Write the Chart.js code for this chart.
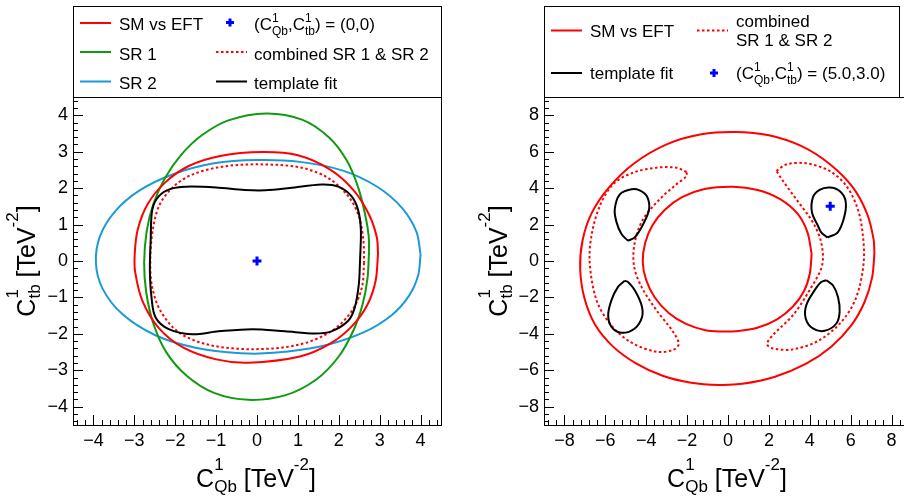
<!DOCTYPE html>
<html>
<head>
<meta charset="utf-8">
<script src="https://cdn.jsdelivr.net/npm/chart.js@4"></script>
<style>
  html, body { margin: 0; padding: 0; background: #fff; overflow: hidden; width: 904px; height: 498px; }
  canvas { position: absolute; top: 0; }
  #left { left: 0; }
  #right { left: 452px; }
</style>
</head>
<body>
<canvas id="left" width="452" height="498"></canvas>
<canvas id="right" width="470" height="498"></canvas>
<script>
// tick labels
const leftTicks = [-4, -3, -2, -1, 0, 1, 2, 3, 4];
const rightTicks = [-8, -6, -4, -2, 0, 2, 4, 6, 8];

// left panel: contours, [C_Qb, C_tb]
const smLeft = [[2.96,0.20],[2.90,-0.55],[2.70,-1.20],[2.33,-1.78],[1.80,-2.26],[1.05,-2.62],[-0.21,-2.79],[-1.00,-2.70],[-1.80,-2.38],[-2.40,-1.84],[-2.80,-1.10],[-2.98,-0.30],[-2.99,0.20],[-2.92,0.85],[-2.68,1.55],[-2.25,2.15],[-1.68,2.60],[-0.90,2.88],[0.12,2.99],[1.00,2.90],[1.80,2.50],[2.38,1.92],[2.75,1.25],[2.93,0.65],[2.96,0.20]];
const sr1Left = [[2.74,0.25],[2.70,-0.50],[2.58,-1.20],[2.36,-1.90],[2.00,-2.62],[1.45,-3.25],[0.70,-3.68],[-0.21,-3.81],[-1.05,-3.62],[-1.72,-3.15],[-2.22,-2.50],[-2.54,-1.70],[-2.71,-0.85],[-2.76,-0.05],[-2.70,0.80],[-2.54,1.55],[-2.25,2.28],[-1.85,2.92],[-1.35,3.45],[-0.70,3.86],[0.22,4.05],[1.10,3.88],[1.75,3.40],[2.20,2.75],[2.48,2.00],[2.65,1.25],[2.73,0.70],[2.74,0.25]];
const sr2Left = [[4.00,0.18],[3.94,-0.40],[3.72,-0.95],[3.30,-1.48],[2.62,-1.95],[1.60,-2.33],[0.40,-2.52],[-0.40,-2.53],[-1.50,-2.38],[-2.50,-2.03],[-3.30,-1.45],[-3.78,-0.75],[-3.94,-0.05],[-3.84,0.68],[-3.48,1.35],[-2.88,1.93],[-2.05,2.38],[-1.05,2.68],[0.00,2.77],[1.05,2.72],[2.10,2.48],[2.95,2.03],[3.55,1.45],[3.90,0.80],[4.00,0.18]];
const combLeft = [[2.62,-0.05],[2.56,-0.75],[2.30,-1.40],[1.80,-1.94],[1.01,-2.30],[-0.12,-2.42],[-1.18,-2.30],[-1.91,-1.96],[-2.36,-1.37],[-2.56,-0.73],[-2.61,-0.10],[-2.56,0.77],[-2.40,1.50],[-2.07,2.01],[-1.59,2.37],[-0.77,2.60],[0.20,2.65],[1.09,2.56],[1.74,2.28],[2.23,1.78],[2.49,1.23],[2.60,0.59],[2.62,-0.05]];
const fitLeft = [[2.52,0.00],[2.49,-0.64],[2.39,-1.28],[2.23,-1.64],[1.82,-1.93],[1.42,-1.99],[0.69,-1.93],[-0.12,-1.87],[-0.94,-1.93],[-1.59,-2.01],[-2.16,-1.87],[-2.48,-1.55],[-2.58,-1.00],[-2.62,-0.27],[-2.60,0.59],[-2.56,1.41],[-2.40,1.78],[-2.11,1.98],[-1.75,2.04],[-1.00,2.02],[-0.30,1.95],[0.20,1.94],[0.80,2.00],[1.58,2.10],[1.99,2.04],[2.31,1.78],[2.47,1.41],[2.54,0.86],[2.52,0.00]];
const pointLeft = [[0, 0]];

// right panel
const smOuter = [[7.16,0.40],[7.05,-0.90],[6.68,-2.25],[6.02,-3.55],[5.05,-4.70],[3.80,-5.65],[2.30,-6.35],[0.70,-6.74],[-0.45,-6.80],[-1.80,-6.68],[-3.20,-6.30],[-4.50,-5.62],[-5.62,-4.70],[-6.50,-3.50],[-7.02,-2.05],[-7.23,-0.45],[-7.12,1.10],[-6.68,2.60],[-5.85,4.00],[-4.60,5.35],[-3.00,6.40],[-1.30,6.95],[0.34,7.08],[2.00,6.90],[3.60,6.30],[5.00,5.30],[6.10,4.05],[6.80,2.60],[7.12,1.20],[7.16,0.40]];
const smInner = [[4.09,0.40],[4.00,-0.70],[3.72,-1.65],[3.18,-2.50],[2.40,-3.20],[1.40,-3.68],[0.40,-3.85],[-0.31,-3.87],[-1.10,-3.80],[-2.05,-3.45],[-2.90,-2.85],[-3.58,-2.00],[-4.00,-1.05],[-4.17,-0.07],[-4.05,1.00],[-3.70,1.95],[-3.10,2.80],[-2.25,3.50],[-1.15,3.95],[0.26,4.08],[1.45,3.90],[2.55,3.40],[3.40,2.60],[3.88,1.60],[4.09,0.40]];
const combRightA = [[-2.03,4.88],[-2.52,5.12],[-3.50,5.12],[-4.64,4.85],[-5.62,4.21],[-6.27,3.02],[-6.68,1.38],[-6.76,-0.16],[-6.43,-2.15],[-5.78,-3.43],[-4.80,-4.43],[-3.50,-4.98],[-2.69,-4.88],[-2.41,-4.56],[-2.69,-3.88],[-3.50,-2.70],[-4.23,-1.42],[-4.60,-0.25],[-4.56,1.02],[-4.15,2.30],[-3.34,3.39],[-2.52,4.21],[-2.03,4.66],[-2.03,4.88]];
const combRightB = [[2.37,4.94],[2.85,5.30],[3.83,5.36],[4.97,4.94],[5.79,4.12],[6.35,2.84],[6.60,1.38],[6.63,-0.16],[6.28,-1.97],[5.62,-3.24],[4.48,-4.34],[3.18,-4.85],[2.20,-4.80],[1.91,-4.56],[2.20,-4.06],[3.18,-2.97],[3.99,-1.60],[4.60,-0.25],[4.56,1.02],[4.15,2.12],[3.34,3.39],[2.69,4.39],[2.37,4.94]];
const fitRightA = [[-4.89,1.11],[-4.56,1.30],[-4.15,2.02],[-3.86,2.84],[-3.96,3.54],[-4.32,3.88],[-4.72,3.94],[-5.29,3.66],[-5.54,2.84],[-5.45,2.12],[-5.21,1.48],[-4.89,1.11]];
const fitRightB = [[4.87,1.29],[4.56,1.57],[4.40,1.93],[4.11,2.66],[4.15,3.48],[4.48,3.90],[4.97,4.03],[5.46,3.84],[5.75,3.30],[5.70,2.48],[5.37,1.57],[4.87,1.29]];
const fitRightC = [[-5.05,-1.09],[-5.38,-1.42],[-5.70,-2.15],[-5.86,-2.97],[-5.70,-3.61],[-5.21,-3.94],[-4.56,-3.70],[-4.20,-3.06],[-4.23,-2.42],[-4.56,-1.60],[-4.89,-1.15],[-5.05,-1.09]];
const fitRightD = [[4.81,-1.06],[5.13,-1.33],[5.38,-1.97],[5.46,-2.79],[5.30,-3.43],[4.73,-3.83],[4.15,-3.70],[3.80,-3.15],[3.83,-2.42],[4.24,-1.60],[4.56,-1.15],[4.81,-1.06]];
const pointRight = [[5.0, 3.0]];

const RED = '#ff0000', GREEN = '#109a10', AZURE = '#1a9bd7', BLUE = '#0000ff';
const FONT = '"Liberation Sans", Arial, sans-serif';

const xy = arr => arr.map(p => ({ x: p[0], y: p[1] }));

function curve(data, color, order, dash) {
  return {
    data: xy(data), showLine: true, borderColor: color, borderWidth: 2,
    borderDash: dash ? [2.5, 2.5] : [], pointRadius: 0, tension: 0.33, fill: false, order
  };
}
function marker(data) {
  return {
    data: xy(data), showLine: false, pointStyle: 'cross', pointRadius: 4.5,
    borderColor: BLUE, borderWidth: 3, order: 0
  };
}

// text with ROOT-like sub/superscripts: parts are strings or {sup, sub}
function richWidth(ctx, parts, size, small) {
  let w = 0;
  for (const p of parts) {
    if (typeof p === 'string') { ctx.font = size + 'px ' + FONT; w += ctx.measureText(p).width; }
    else {
      ctx.font = small + 'px ' + FONT;
      w += Math.max(p.sup ? ctx.measureText(p.sup).width : 0, p.sub ? ctx.measureText(p.sub).width : 0);
    }
  }
  return w;
}
function drawRich(ctx, parts, x, y, size, small, supDy, subDy, center) {
  if (center) x -= richWidth(ctx, parts, size, small) / 2;
  ctx.textAlign = 'left';
  ctx.textBaseline = 'alphabetic';
  for (const p of parts) {
    if (typeof p === 'string') {
      ctx.font = size + 'px ' + FONT;
      ctx.fillText(p, x, y);
      x += ctx.measureText(p).width;
    } else {
      ctx.font = small + 'px ' + FONT;
      let w = 0;
      if (p.sup) { ctx.fillText(p.sup, x, y + supDy); w = ctx.measureText(p.sup).width; }
      if (p.sub) { ctx.fillText(p.sub, x, y + subDy); w = Math.max(w, ctx.measureText(p.sub).width); }
      x += w;
    }
  }
}

function plus(ctx, x, y) {
  ctx.save();
  ctx.strokeStyle = BLUE; ctx.lineWidth = 3;
  ctx.beginPath();
  ctx.moveTo(x - 4, y); ctx.lineTo(x + 4, y);
  ctx.moveTo(x, y - 4); ctx.lineTo(x, y + 4);
  ctx.stroke();
  ctx.restore();
}

// frame, inward ticks, axis titles and the boxed legend
const rootDeco = {
  id: 'rootDeco',
  afterDraw(chart, args, o) {
    const { ctx, chartArea: a, scales: { x, y } } = chart;
    ctx.save();
    ctx.strokeStyle = '#000';
    ctx.lineWidth = 1;
    ctx.strokeRect(Math.round(a.left) + 0.5, Math.round(a.top) + 0.5, Math.round(a.right - a.left), Math.round(a.bottom - a.top));

    ctx.beginPath();
    const isMajor = v => Math.abs(v / o.major - Math.round(v / o.major)) < 1e-6;
    for (let k = Math.ceil(x.min / o.minor - 1e-9); k * o.minor <= x.max + 1e-9; k++) {
      const v = k * o.minor, px = Math.round(x.getPixelForValue(v)) + 0.5;
      ctx.moveTo(px, a.bottom); ctx.lineTo(px, a.bottom - (isMajor(v) ? 10 : 5));
    }
    for (let k = Math.ceil(y.min / o.minor - 1e-9); k * o.minor <= y.max + 1e-9; k++) {
      const v = k * o.minor, py = Math.round(y.getPixelForValue(v)) + 0.5;
      ctx.moveTo(a.left, py); ctx.lineTo(a.left + (isMajor(v) ? 10 : 5), py);
    }
    ctx.stroke();

    ctx.fillStyle = '#000';
    drawRich(ctx, ['C', { sup: '1', sub: 'Qb' }, ' [TeV', { sup: '-2' }, ']'],
      (a.left + a.right) / 2 - 1, 487, 25, 17, -17, 5, true);
    ctx.save();
    ctx.translate(o.yTitleX, (a.top + a.bottom) / 2);
    ctx.rotate(-Math.PI / 2);
    drawRich(ctx, ['C', { sup: '1', sub: 'tb' }, ' [TeV', { sup: '-2' }, ']'], 0, 0, 25, 17, -17, 5, true);
    ctx.restore();

    // legend box
    const b = o.box;
    ctx.strokeRect(b[0] + 0.5, b[1] + 0.5, b[2] - b[0], b[3] - b[1]);
    for (const it of o.items) {
      if (it.kind === 'mark') plus(ctx, it.x + 15, it.y);
      else {
        ctx.save();
        ctx.strokeStyle = it.color; ctx.lineWidth = 2;
        ctx.setLineDash(it.kind === 'dash' ? [2.5, 2.5] : []);
        ctx.beginPath(); ctx.moveTo(it.x, it.y); ctx.lineTo(it.x + 31, it.y); ctx.stroke();
        ctx.restore();
      }
      ctx.fillStyle = '#000';
      it.text.forEach((t, i) => drawRich(ctx, t, it.tx, it.ty + i * 19.5, 17, 12, -8, 5, false));
    }
    ctx.restore();
  }
};

function axis(min, max, ticks, size, horizontal) {
  return {
    type: 'linear', min, max,
    afterBuildTicks: s => { s.ticks = ticks.map(v => ({ value: v })); },
    afterFit: s => { if (horizontal) s.height = size; else s.width = size; },
    grid: { display: false, drawTicks: false },
    border: { display: false },
    ticks: {
      color: '#000', padding: 5, autoSkip: false, maxRotation: 0,
      font: { family: FONT, size: 18 },
      callback: v => String(v).replace('-', '\u2212')
    }
  };
}

function makeChart(id, datasets, range, ticks, yWidth, padRight, deco) {
  return new Chart(document.getElementById(id), {
    type: 'scatter',
    data: { datasets },
    options: {
      responsive: false, animation: false, devicePixelRatio: 1,
      layout: { padding: { top: 97, right: padRight, left: 0, bottom: 0 } },
      plugins: { legend: { display: false }, tooltip: { enabled: false }, rootDeco: deco },
      scales: {
        x: axis(-range, range, ticks, 73, true),
        y: axis(-range, range, ticks, yWidth, false)
      }
    },
    plugins: [rootDeco]
  });
}

const SM = [['SM vs EFT']];
const POINT0 = [['(C', { sup: '1', sub: 'Qb' }, ',C', { sup: '1', sub: 'tb' }, ') = (0,0)']];
const POINT5 = [['(C', { sup: '1', sub: 'Qb' }, ',C', { sup: '1', sub: 'tb' }, ') = (5.0,3.0)']];

makeChart('left', [
  curve(sr2Left, AZURE, 5),
  curve(sr1Left, GREEN, 4),
  curve(smLeft, RED, 3),
  curve(combLeft, RED, 2, true),
  curve(fitLeft, '#000', 1),
  marker(pointLeft)
], 4.5, leftTicks, 73, 11, {
  major: 1, minor: 0.2, yTitleX: 35, box: [73, 6, 441, 97],
  items: [
    { kind: 'line', color: RED, x: 80, y: 23, tx: 119, ty: 29.5, text: SM },
    { kind: 'line', color: GREEN, x: 80, y: 52, tx: 119, ty: 60, text: [['SR 1']] },
    { kind: 'line', color: AZURE, x: 80, y: 81.5, tx: 119, ty: 88.5, text: [['SR 2']] },
    { kind: 'mark', x: 215, y: 22.5, tx: 254, ty: 29.5, text: POINT0 },
    { kind: 'dash', color: RED, x: 216, y: 52, tx: 254, ty: 60, text: [['combined SR 1 & SR 2']] },
    { kind: 'line', color: '#000', x: 216, y: 81.5, tx: 254, ty: 88.5, text: [['template fit']] }
  ]
});

makeChart('right', [
  curve(smOuter, RED, 3),
  curve(smInner, RED, 3),
  curve(combRightA, RED, 2, true),
  curve(combRightB, RED, 2, true),
  curve(fitRightA, '#000', 1),
  curve(fitRightB, '#000', 1),
  curve(fitRightC, '#000', 1),
  curve(fitRightD, '#000', 1),
  marker(pointRight)
], 9, rightTicks, 92, 10, {
  major: 2, minor: 0.4, yTitleX: 55, box: [92, 6, 447, 97],
  items: [
    { kind: 'line', color: RED, x: 99, y: 30.5, tx: 138, ty: 36.5, text: SM },
    { kind: 'dash', color: RED, x: 245, y: 30.5, tx: 284, ty: 26.5, text: [['combined'], ['SR 1 & SR 2']] },
    { kind: 'line', color: '#000', x: 99, y: 73, tx: 138, ty: 79, text: [['template fit']] },
    { kind: 'mark', x: 247, y: 73, tx: 284, ty: 79, text: POINT5 }
  ]
});
</script>
</body>
</html>
